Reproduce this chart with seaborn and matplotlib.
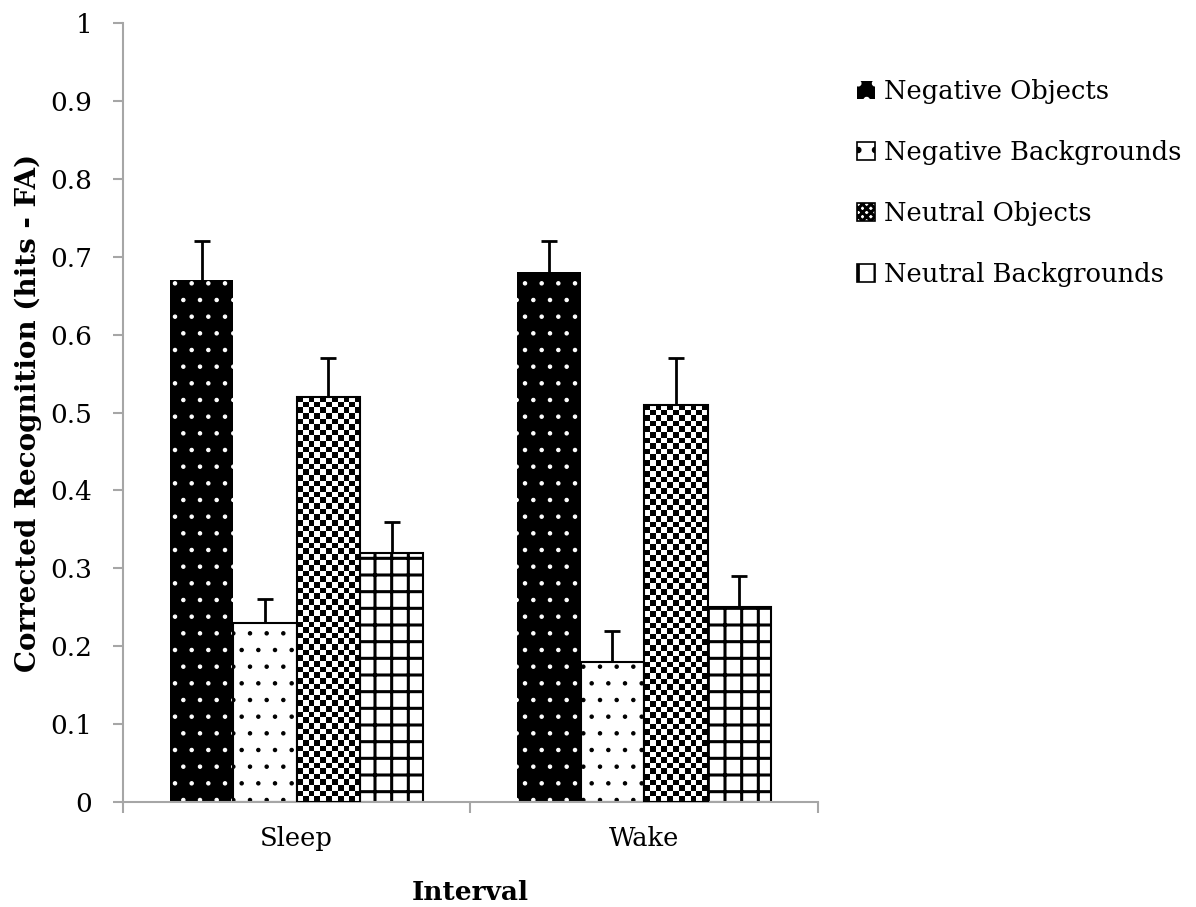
import numpy as np
import pandas as pd
import matplotlib
matplotlib.use("Agg")
import matplotlib.pyplot as plt
import seaborn as sns
from matplotlib.patches import Patch

intervals = ["Sleep", "Wake"]
conditions = ["Negative Objects", "Negative Backgrounds", "Neutral Objects", "Neutral Backgrounds"]
sleep_vals = [0.67, 0.23, 0.52, 0.32]
wake_vals = [0.68, 0.18, 0.51, 0.25]
sleep_err = [0.05, 0.03, 0.05, 0.04]
wake_err = [0.04, 0.04, 0.06, 0.04]

df = pd.DataFrame({
    "Interval": np.repeat(intervals, len(conditions)),
    "Condition": conditions * len(intervals),
    "value": sleep_vals + wake_vals,
    "err": sleep_err + wake_err,
})

sns.set_style("white")
plt.rcParams["font.family"] = ["DejaVu Serif"]
plt.rcParams["text.color"] = "black"
plt.rcParams["axes.labelcolor"] = "black"
plt.rcParams["xtick.color"] = "black"
plt.rcParams["ytick.color"] = "black"
plt.rcParams["hatch.linewidth"] = 2.2

fig = plt.figure(figsize=(11.96, 9.07), dpi=100)
ax = fig.add_axes([0.1028, 0.1158, 0.581, 0.8588])

sns.barplot(data=df, x="Interval", y="value", hue="Condition", hue_order=conditions,
            palette=["black", "white", "white", "white"], width=0.73, errorbar=None,
            saturation=1, legend=False, ax=ax)

ax.set_xlim(-0.5, 1.5)
ax.set_ylim(0, 1)

# bar styling per condition (dots drawn thinner than the grid lines)
styles = [
    dict(edgecolor="white", linewidth=0, hatch=".", hlw=0.8),
    dict(edgecolor="black", linewidth=1.5, hatch=".", hlw=0.8),
    dict(edgecolor="black", linewidth=1.5, hatch=None, hlw=None),
    dict(edgecolor="black", linewidth=1.5, hatch="+", hlw=2.2),
]
for cont, st in zip(ax.containers, styles):
    for p in cont:
        p.set_edgecolor(st["edgecolor"])
        p.set_linewidth(st["linewidth"])
        if st["hatch"]:
            p.set_hatch(st["hatch"])
            if hasattr(p, "set_hatch_linewidth"):
                p.set_hatch_linewidth(st["hlw"])

# checkerboard for neutral objects
for p in ax.containers[2]:
    x0, x1, h = p.get_x(), p.get_x() + p.get_width(), p.get_height()
    a = ax.transData.transform((x0, 0))
    b = ax.transData.transform((x1, h))
    nx = max(1, int(round((b[0] - a[0]) / 5.6)))
    ny = max(1, int(round((b[1] - a[1]) / 5.6)))
    checker = np.add.outer(np.arange(ny), np.arange(nx)) % 2
    p.set_facecolor("none")
    p.set_zorder(3)
    ax.imshow(checker, cmap="gray", extent=(x0, x1, 0, h), aspect="auto",
              interpolation="nearest", zorder=2, clip_path=p)

# upper error bars only
xs, ys, es = [], [], []
for cont, cond in zip(ax.containers, conditions):
    sub = df[df["Condition"] == cond]
    for p, e in zip(cont, sub["err"]):
        xs.append(p.get_x() + p.get_width() / 2)
        ys.append(p.get_height())
        es.append(e)
eb = ax.errorbar(xs, ys, yerr=[np.zeros(len(es)), es], fmt="none", ecolor="black",
                 elinewidth=2, capsize=5.5, capthick=2, zorder=4)
eb[1][0].set_visible(False)

ax.set_xlim(-0.5, 1.5)
ax.set_ylim(0, 1)

# axes look
sns.despine(ax=ax)
for s in ["left", "bottom"]:
    ax.spines[s].set_color("#a6a6a6")
    ax.spines[s].set_linewidth(1.5)
ax.set_yticks(np.arange(0, 1.01, 0.1))
ax.set_yticklabels(["0"] + [f"{v:.1f}" for v in np.arange(0.1, 1.0, 0.1)] + ["1"])
ax.tick_params(axis="y", direction="out", length=7, width=1.5, color="#a6a6a6",
               labelcolor="black", labelsize=19, pad=15, left=True)
ax.set_xticks([0, 1])
ax.set_xticklabels(intervals)
ax.set_xticks([-0.5, 0.5, 1.5], minor=True)
ax.tick_params(axis="x", which="major", length=0, labelsize=18.5, labelcolor="black", pad=17)
ax.tick_params(axis="x", which="minor", direction="out", length=8, width=1.5,
               color="#a6a6a6", bottom=True)

ax.set_xlabel("Interval", fontsize=19, fontweight="bold", labelpad=21)
ax.set_ylabel("Corrected Recognition (hits - FA)", fontsize=20, fontweight="bold")
ax.yaxis.set_label_coords(-0.117, 0.5)

handles = [
    Patch(facecolor="black", edgecolor="white", linewidth=0, hatch="."),
    Patch(facecolor="white", edgecolor="black", linewidth=1.2, hatch="."),
    Patch(facecolor="white", edgecolor="black", linewidth=1.2, hatch="xxxx"),
    Patch(facecolor="white", edgecolor="black", linewidth=1.2, hatch="|"),
]
fig.legend(handles, conditions, loc="upper left", bbox_to_anchor=(0.697, 0.938),
           frameon=False, fontsize=18.5, handlelength=0.7, handleheight=0.7,
           handletextpad=0.35, labelspacing=1.4)

fig.savefig("out.png", dpi=100)
